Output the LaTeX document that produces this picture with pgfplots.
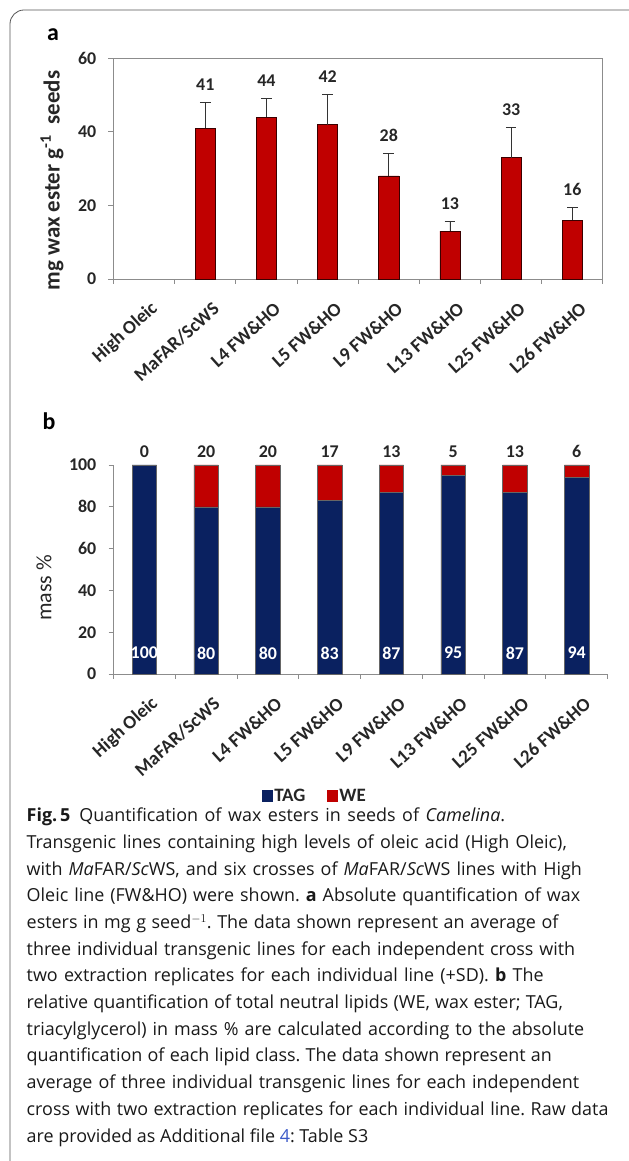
\documentclass[border=0pt]{standalone}
\usepackage{pgfplots}
\pgfplotsset{compat=1.18}
\usepackage{pgfplotstable}
\usepackage{fontspec}
\setmainfont{Carlito}
\newfontfamily\capfont{Open Sans}

\definecolor{weRed}{HTML}{C00000}
\definecolor{tagBlue}{HTML}{0A2160}
\definecolor{axisGray}{HTML}{8C8C8C}
\definecolor{linkBlue}{HTML}{3C5AC8}
\definecolor{frameGray}{HTML}{555555}

% absolute wax ester content (mg/g seed), mean and SD
\pgfplotstableread{
x mean sd
1 41 7.0
2 44 5.2
3 42 8.2
4 28 6.2
5 13 2.6
6 33 8.1
7 16 3.5
}\waxabs

% relative neutral lipid composition (mass %)
\pgfplotstableread{
x tag we
0 100 0
1 80 20
2 80 20
3 83 17
4 87 13
5 95 5
6 87 13
7 94 6
}\lipidrel

\newcommand{\tickfont}{\bfseries\fontsize{18}{18}\selectfont}
\newcommand{\catfont}{\bfseries\fontsize{19}{19}\selectfont}
% one caption line, spread to a given width
\newcommand{\capline}[2]{\makebox[#1][s]{#2}}

\pgfplotsset{
  catstyle/.style={
    scale only axis,
    anchor=south west,
    xmin=-0.5, xmax=7.5,
    ymin=0,
    xtick={-0.5,0.5,...,7.5},
    x tick label as interval,
    xticklabels={High Oleic,MaFAR/ScWS,L4 FW\&HO,L5 FW\&HO,L9 FW\&HO,L13 FW\&HO,L25 FW\&HO,L26 FW\&HO},
    tick align=outside,
    major tick length=5bp,
    tick style={axisGray, line width=0.8bp},
    axis line style={axisGray, line width=0.8bp},
    ticklabel style={font=\tickfont, text=black!85},
    /pgf/number format/assume math mode=true,
    yticklabel style={inner sep=0pt, xshift=-12bp},
    xticklabel style={font=\catfont, inner sep=0pt, xshift=11bp, yshift=-22bp, rotate=42, anchor=east},
    clip=false,
  },
}

\begin{document}
\begin{tikzpicture}
\useasboundingbox (0,0) rectangle (629bp,1161bp);
\draw[frameGray, line width=0.8bp, rounded corners=14bp]
  (629bp,1151bp) -- (10bp,1151bp) -- (10bp,0bp);

\node[font=\bfseries\fontsize{24}{24}\selectfont] at (53bp,1126bp) {a};
\node[font=\bfseries\fontsize{24}{24}\selectfont] at (49bp,740bp) {b};

% panel a: absolute wax ester amounts
\begin{axis}[catstyle,
  at={(113.5bp,882bp)},
  width=489.4bp, height=220.7bp,
  ymax=60, ytick={0,20,40,60},
  tick pos=left,
  ylabel={mg wax ester g\textsuperscript{-1}\ \ seeds},
  ylabel style={at={(axis description cs:-0.1257,0.446)}, anchor=center,
    font=\bfseries\fontsize{23}{23}\selectfont, text=black!85},
]
\addplot[ybar, bar width=0.33, bar shift=0pt, fill=weRed,
  draw=black!70!weRed, line width=0.6bp,
  error bars/.cd, y dir=plus, y explicit,
  error bar style={black!80, line width=0.8bp},
  error mark options={rotate=90, mark size=5.3bp, black!80, line width=0.8bp}]
  table[x=x, y=mean, y error=sd] {\waxabs};
\addplot[draw=none, mark=none, nodes near coords, point meta=explicit,
  every node near coord/.append style={anchor=south, inner sep=0pt,
    yshift=11.5bp, font=\tickfont, text=black!85}]
  table[x=x, y expr=\thisrow{mean}+\thisrow{sd}, meta=mean] {\waxabs};
\end{axis}

% panel b: relative composition, stacked
\begin{axis}[catstyle,
  at={(113.5bp,487bp)},
  width=494bp, height=209bp,
  ymax=100, ytick={0,20,...,100},
  axis x line*=bottom, axis y line*=left,
  ybar stacked, bar width=0.4,
  ylabel={mass \%},
  ylabel style={at={(axis description cs:-0.1407,0.411)}, anchor=center,
    font=\fontsize{22}{22}\selectfont, text=black!85},
  legend columns=2,
  legend style={at={(0.407,-0.584)}, anchor=center, draw=none, fill=none,
    font=\bfseries\fontsize{19}{19}\selectfont, text=black!85,
    nodes={inner sep=1.5bp},
    /tikz/every even column/.append style={column sep=20bp}},
  legend image code/.code={\fill[#1, draw=none] (0bp,-6bp) rectangle (11bp,6bp);},
]
\addplot[fill=tagBlue, draw=black!60, line width=0.5bp] table[x=x, y=tag] {\lipidrel};
\addlegendentry{TAG}
\addplot[fill=weRed, draw=black!60, line width=0.5bp] table[x=x, y=we] {\lipidrel};
\addlegendentry{WE}
\end{axis}

% value labels for panel b
\begin{axis}[scale only axis, anchor=south west,
  at={(113.5bp,487bp)}, width=494bp, height=209bp,
  xmin=-0.5, xmax=7.5, ymin=0, ymax=100, hide axis, clip=false,
  /pgf/number format/assume math mode=true]
\addplot[draw=none, mark=none, nodes near coords, point meta=explicit,
  every node near coord/.append style={anchor=south, inner sep=0pt,
    yshift=7bp, font=\tickfont, text=black!85}]
  table[x=x, y expr=\thisrow{tag}+\thisrow{we}, meta=we] {\lipidrel};
\addplot[draw=none, mark=none, nodes near coords, point meta=explicit,
  every node near coord/.append style={anchor=center, inner sep=0pt,
    font=\tickfont, text=white}]
  table[x=x, y expr=10, meta=tag] {\lipidrel};
\end{axis}

% caption
\begin{scope}[every node/.style={anchor=base west, inner sep=0pt,
    font=\capfont\fontsize{18}{22}\selectfont\frenchspacing, text=black!90}]
\node at (26.5bp,339.0bp) {\capline{478.5bp}{\textbf{Fig.\,5}\hspace{0.5em}Quantification of wax esters in seeds of \textit{Camelina}.}};
\node at (26.5bp,312.3bp) {\capline{540.2bp}{Transgenic lines containing high levels of oleic acid (High Oleic),}};
\node at (26.5bp,285.7bp) {\capline{555.2bp}{with \textit{Ma}FAR/\textit{Sc}WS, and six crosses of \textit{Ma}FAR/\textit{Sc}WS lines with High}};
\node at (26.5bp,259.0bp) {\capline{553.5bp}{Oleic line (FW\&HO) were shown. \textbf{a} Absolute quantification of wax}};
\node at (26.5bp,232.3bp) {\capline{531.8bp}{esters in mg g seed$^{-1}$. The data shown represent an average of}};
\node at (26.5bp,205.7bp) {\capline{548.5bp}{three individual transgenic lines for each independent cross with}};
\node at (26.5bp,179.0bp) {\capline{517bp}{two extraction replicates for each individual line (+SD). \textbf{b} The}};
\node at (26.5bp,152.3bp) {\capline{536.2bp}{relative quantification of total neutral lipids (WE, wax ester; TAG,}};
\node at (26.5bp,125.7bp) {\capline{557.5bp}{triacylglycerol) in mass \% are calculated according to the absolute}};
\node at (26.5bp,99.0bp) {\capline{525.2bp}{quantification of each lipid class. The data shown represent an}};
\node at (26.5bp,72.3bp) {\capline{552.5bp}{average of three individual transgenic lines for each independent}};
\node at (26.5bp,45.7bp) {\capline{581.8bp}{cross with two extraction replicates for each individual line. Raw data}};
\node at (26.5bp,19.0bp) {are provided as Additional file \textcolor{linkBlue}{4}: Table S3};
\end{scope}
\end{tikzpicture}
\end{document}
